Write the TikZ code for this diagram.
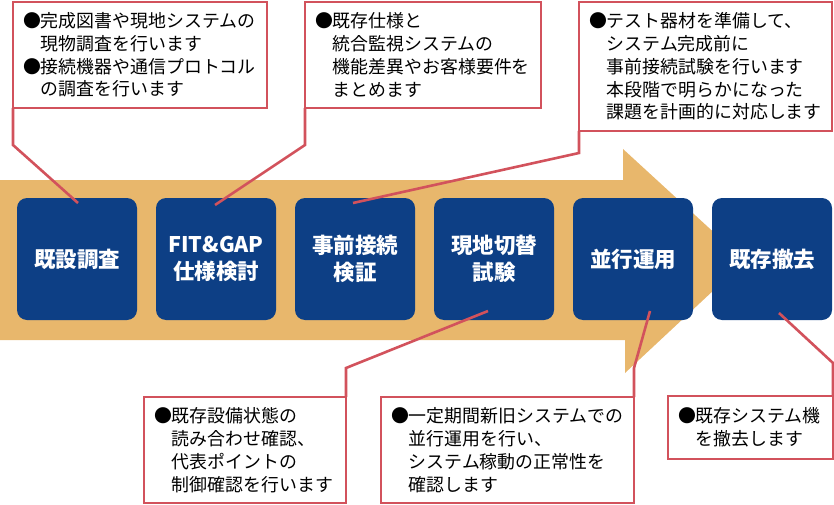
\documentclass[tikz,border=0pt]{standalone}
\usepackage{fontspec}
\setmainfont{Noto Sans CJK JP}
\usetikzlibrary{calc}
\definecolor{arroworange}{RGB}{232,183,108}
\definecolor{stepblue}{RGB}{13,63,133}
\definecolor{calloutred}{RGB}{210,82,92}
\newcommand{\ind}{\phantom{●}}
\begin{document}
\begin{tikzpicture}[x=1pt,y=-1pt,
  stepbox/.style={fill=stepblue,rounded corners=10pt,minimum width=120pt,minimum height=122pt,
    text=white,font=\fontsize{21.5}{27}\selectfont\bfseries,align=center,inner sep=0pt,outer sep=0pt},
  callout/.style={draw=calloutred,line width=2.8pt,fill=white,align=left,inner xsep=10pt,inner ysep=0pt,
    outer sep=0pt,font=\fontsize{17.9}{22.8}\selectfont},
  leader/.style={draw=calloutred,line width=2.6pt}
]
\useasboundingbox (0,0) rectangle (834,505);
% big arrow
\fill[arroworange] (0,180) -- (623,180) -- (623,149) -- (745,261) -- (625,373) -- (625,340) -- (0,340) -- cycle;
% step boxes
\node[stepbox] (b1) at (77,259) {既設調査};
\node[stepbox] (b2) at (216,259) {FIT\&GAP\\仕様検討};
\node[stepbox] (b3) at (355,259) {事前接続\\検証};
\node[stepbox] (b4) at (494,259) {現地切替\\試験};
\node[stepbox] (b5) at (633,259) {並行運用};
\node[stepbox] (b6) at (772,259) {既存撤去};
% callouts
\node[callout,minimum width=254pt,minimum height=106pt,text width=234pt] (c1) at (140,55)
  {●完成図書や現地システムの\\\ind 現物調査を行います\\●接続機器や通信プロトコル\\\ind の調査を行います};
\node[callout,minimum width=236pt,minimum height=106pt,text width=216pt] (c2) at (423,55)
  {●既存仕様と\\\ind 統合監視システムの\\\ind 機能差異やお客様要件を\\\ind まとめます};
\node[callout,minimum width=253pt,minimum height=129pt,text width=233pt] (c3) at (705.5,66.5)
  {●テスト器材を準備して、\\\ind システム完成前に\\\ind 事前接続試験を行います\\\ind 本段階で明らかになった\\\ind 課題を計画的に対応します};
\node[callout,minimum width=202pt,minimum height=106pt,text width=182pt] (c4) at (245,450)
  {●既存設備状態の\\\ind 読み合わせ確認、\\\ind 代表ポイントの\\\ind 制御確認を行います};
\node[callout,minimum width=253pt,minimum height=106pt,text width=233pt] (c5) at (507.5,450)
  {●一定期間新旧システムでの\\\ind 並行運用を行い、\\\ind システム稼動の正常性を\\\ind 確認します};
\node[callout,minimum width=163pt,minimum height=63pt,text width=145pt] (c6) at (750.5,427.5)
  {●既存システム機\\\ind を撤去します};
% leaders
\coordinate (e1) at ($(b1.north)+(1,5)$);
\coordinate (e2) at ($(b2.north)+(-1,7)$);
\coordinate (e3) at ($(b3.north)+(-2,5)$);
\coordinate (e4) at ($(b4.south)+(-6,-9)$);
\coordinate (e5) at ($(b5.south)+(17,-9)$);
\coordinate (e6) at ($(b6.south)+(7,-7)$);
\draw[leader] (c1.south west) -- ++(0,37) -- (e1);
\draw[leader] (c2.south west) -- ++(0,37) -- (e2);
\draw[leader] (c3.south west) -- ++(0,22) -- (e3);
\draw[leader] (c4.north east) -- ++(0,-29) -- (e4);
\draw[leader] (c5.north east) -- ++(0,-29) -- (e5);
\draw[leader] (c6.north east) -- ++(0,-33) -- (e6);
\end{tikzpicture}
\end{document}
